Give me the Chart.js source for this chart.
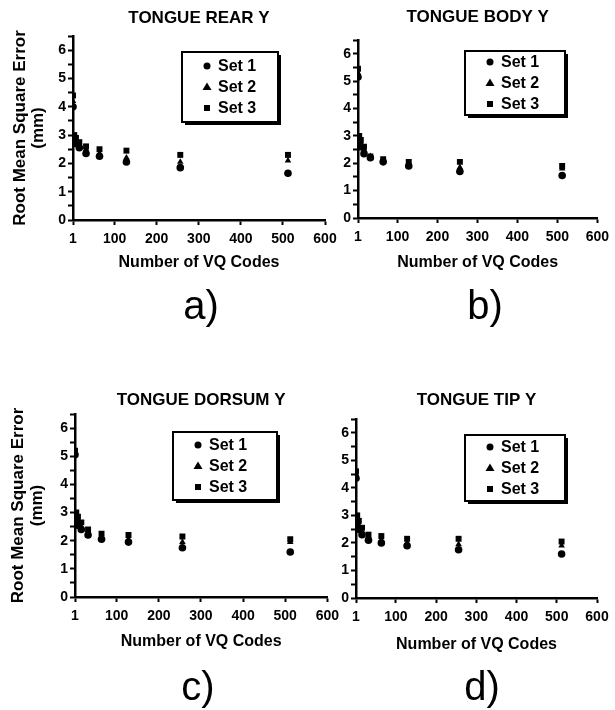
<!DOCTYPE html>
<html>
<head>
<meta charset="utf-8">
<script src="https://cdn.jsdelivr.net/npm/chart.js@4.4.1/dist/chart.umd.min.js"></script>
<style>
  html, body { margin: 0; padding: 0; background: #fff; }
  #page { position: relative; width: 615px; height: 710px; overflow: hidden; }
  canvas { position: absolute; }
  .tag {
    position: absolute;
    font-family: 'Liberation Sans', Arial, sans-serif;
    font-size: 40px;
    line-height: 1;
    color: #000;
    transform: translate(-50%, -50%);
  }
</style>
</head>
<body>
<div id="page">
  <canvas id="chartA"></canvas>
  <canvas id="chartB"></canvas>
  <canvas id="chartC"></canvas>
  <canvas id="chartD"></canvas>
  <div class="tag" style="left:201px; top:305px;">a)</div>
  <div class="tag" style="left:485px; top:305px;">b)</div>
  <div class="tag" style="left:198px; top:686px;">c)</div>
  <div class="tag" style="left:482px; top:686px;">d)</div>
</div>
<script>
// number of VQ codes (x) for every panel
const VQ_CODES = [1, 4, 8, 16, 32, 64, 128, 256, 512];
const X_TICKS = [1, 100, 200, 300, 400, 500, 600];
const SET_NAMES = ['Set 1', 'Set 2', 'Set 3'];

// RMS error (mm)
const REAR_SET1 = [4.0, 2.8, 2.7, 2.55, 2.35, 2.25, 2.05, 1.85, 1.65];
const REAR_SET2 = [4.2, 2.9, 2.8, 2.65, 2.5, 2.35, 2.2, 2.05, 2.1];
const REAR_SET3 = [4.4, 3.0, 2.9, 2.75, 2.6, 2.5, 2.45, 2.3, 2.3];

const BODY_SET1 = [5.15, 2.8, 2.6, 2.35, 2.2, 2.05, 1.9, 1.7, 1.55];
const BODY_SET2 = [5.3, 2.9, 2.75, 2.5, 2.25, 2.1, 1.95, 1.85, 1.8];
const BODY_SET3 = [5.45, 3.0, 2.85, 2.6, 2.25, 2.15, 2.05, 2.05, 1.9];

const DORSUM_SET1 = [5.05, 2.8, 2.55, 2.4, 2.2, 2.05, 1.95, 1.75, 1.6];
const DORSUM_SET2 = [5.15, 2.9, 2.7, 2.5, 2.3, 2.15, 2.05, 1.95, 1.95];
const DORSUM_SET3 = [5.2, 3.0, 2.85, 2.65, 2.4, 2.25, 2.2, 2.15, 2.05];

const TIP_SET1 = [4.35, 2.75, 2.5, 2.3, 2.1, 2.0, 1.9, 1.75, 1.6];
const TIP_SET2 = [4.5, 2.85, 2.65, 2.4, 2.2, 2.1, 2.0, 1.95, 1.9];
const TIP_SET3 = [4.6, 3.0, 2.8, 2.55, 2.3, 2.25, 2.15, 2.15, 2.05];

const FONT = "'Liberation Sans', Arial, Helvetica, sans-serif";
Chart.defaults.font.family = FONT;
Chart.defaults.color = '#000';

const MARKERS = ['circle', 'triangle', 'rect'];

function marker(ctx, style, x, y) {
  ctx.beginPath();
  if (style === 'circle') {
    ctx.arc(x, y, 3.5, 0, Math.PI * 2);
  } else if (style === 'triangle') {
    ctx.moveTo(x, y - 4.5);
    ctx.lineTo(x + 4.5, y + 3);
    ctx.lineTo(x - 4.5, y + 3);
    ctx.closePath();
  } else {
    ctx.rect(x - 3, y - 3, 6, 6);
  }
  ctx.fill();
}

// boxed legend inside the plot, with a drop shadow like the original
const boxLegend = {
  id: 'boxLegend',
  afterDraw(chart, args, opts) {
    const { ctx, chartArea } = chart;
    const x = chartArea.left + opts.dx;
    const y = chartArea.top + opts.dy;
    ctx.save();
    ctx.fillStyle = '#000';
    ctx.fillRect(x + 3, y + 3, opts.w, opts.h);
    ctx.fillStyle = '#fff';
    ctx.fillRect(x, y, opts.w, opts.h);
    ctx.strokeStyle = '#000';
    ctx.lineWidth = 2;
    ctx.strokeRect(x, y, opts.w, opts.h);
    ctx.fillStyle = '#000';
    ctx.font = 'bold 16px ' + FONT;
    ctx.textBaseline = 'middle';
    SET_NAMES.forEach((name, i) => {
      const ry = y + opts.h / 2 + (i - 1) * 21;
      marker(ctx, MARKERS[i], x + 25, ry);
      ctx.fillText(name, x + 36, ry + 1);
    });
    ctx.restore();
  }
};

function makeChart(id, title, sets, g) {
  const canvas = document.getElementById(id);
  canvas.width = g.cw;
  canvas.height = g.ch;
  canvas.style.left = g.cx + 'px';
  canvas.style.top = g.cy + 'px';

  const datasets = sets.map((vals, i) => ({
    label: SET_NAMES[i],
    data: VQ_CODES.map((v, j) => ({ x: v, y: vals[j] })),
    pointStyle: MARKERS[i],
    pointRadius: MARKERS[i] === 'rect' ? 4.2 : 3.8,
    backgroundColor: '#000',
    borderColor: '#000',
    borderWidth: 0,
    showLine: false
  }));

  new Chart(canvas, {
    type: 'scatter',
    data: { datasets },
    options: {
      responsive: false,
      animation: false,
      layout: { padding: { left: 0, right: g.cx + g.cw - g.R, top: 0, bottom: 0 } },
      plugins: {
        legend: { display: false },
        tooltip: { enabled: false },
        title: {
          display: true,
          text: title,
          fullSize: false,
          font: { size: 17, weight: 'bold', lineHeight: 1.2 },
          padding: { top: g.tTop, bottom: g.T - g.cy - g.tTop - 20.4 }
        },
        boxLegend: g.legend
      },
      scales: {
        x: {
          type: 'linear',
          min: 1,
          max: 600,
          afterBuildTicks: (s) => { s.ticks = X_TICKS.map(v => ({ value: v })); },
          afterFit: (s) => { s.height = g.cy + g.ch - g.B; },
          ticks: { font: { size: 14, weight: 'bold' }, padding: 6, maxRotation: 0, autoSkip: false },
          grid: { drawOnChartArea: false, drawTicks: true, tickLength: 5, tickColor: '#000', tickWidth: 2 },
          border: { color: '#000', width: 2.5 },
          title: {
            display: true,
            text: 'Number of VQ Codes',
            font: { size: 16, weight: 'bold', lineHeight: 1.2 },
            padding: { top: 0, bottom: g.xtOff - 9.6 }
          }
        },
        y: {
          min: 0,
          max: 6.5,
          afterFit: (s) => { s.width = g.L - g.cx; },
          ticks: {
            stepSize: 0.5,
            autoSkip: false,
            padding: 2,
            font: { size: 14, weight: 'bold' },
            callback: (v) => Number.isInteger(v) ? String(v) : ''
          },
          grid: { drawOnChartArea: false, drawTicks: true, tickLength: 5, tickColor: '#000', tickWidth: 2 },
          border: { color: '#000', width: 2.5 },
          title: {
            display: g.yTitle,
            text: ['Root Mean Square Error', '(mm)'],
            font: { size: 17, weight: 'bold', lineHeight: 1.1 },
            padding: { top: g.ytOff - 9.35, bottom: 0 }
          }
        }
      }
    },
    plugins: [boxLegend]
  });
}

makeChart('chartA', 'TONGUE REAR Y', [REAR_SET1, REAR_SET2, REAR_SET3], {
  cx: 0, cy: 0, cw: 345, ch: 290, L: 73, T: 36, R: 325, B: 220,
  tTop: 7.8, xtOff: 27, yTitle: true, ytOff: 20,
  legend: { dx: 109, dy: 16, w: 96, h: 70 }
});
makeChart('chartB', 'TONGUE BODY Y', [BODY_SET1, BODY_SET2, BODY_SET3], {
  cx: 300, cy: 0, cw: 315, ch: 288, L: 358, T: 40, R: 598, B: 218,
  tTop: 6.8, xtOff: 25, yTitle: false, ytOff: 10,
  legend: { dx: 107, dy: 11, w: 100, h: 64 }
});
makeChart('chartC', 'TONGUE DORSUM Y', [DORSUM_SET1, DORSUM_SET2, DORSUM_SET3], {
  cx: 0, cy: 370, cw: 345, ch: 297, L: 75, T: 414, R: 329, B: 597,
  tTop: 19.8, xtOff: 25, yTitle: true, ytOff: 18.5,
  legend: { dx: 98, dy: 18, w: 104, h: 68 }
});
makeChart('chartD', 'TONGUE TIP Y', [TIP_SET1, TIP_SET2, TIP_SET3], {
  cx: 300, cy: 370, cw: 315, ch: 298, L: 356, T: 419, R: 597, B: 598,
  tTop: 19.8, xtOff: 23, yTitle: false, ytOff: 10,
  legend: { dx: 109, dy: 16, w: 100, h: 66 }
});
</script>
</body>
</html>
